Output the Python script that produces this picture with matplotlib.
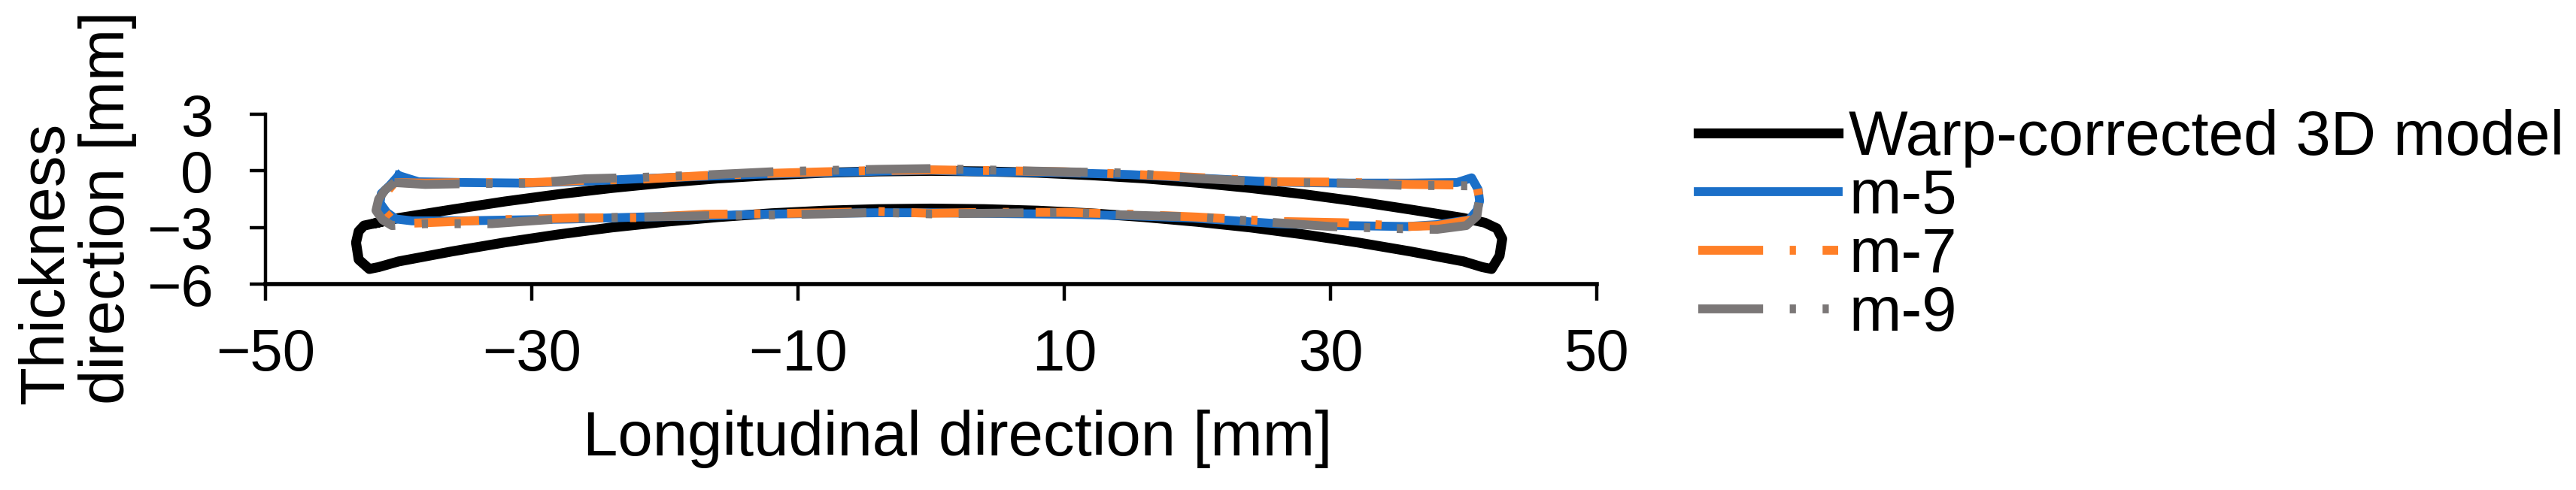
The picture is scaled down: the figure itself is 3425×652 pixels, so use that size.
import matplotlib
matplotlib.use("Agg")
matplotlib.rcParams["font.family"] = ["Liberation Sans", "DejaVu Sans"]
import matplotlib.pyplot as plt

W, H = 3425, 652

# Outlines, mm (closed loops, top surface then bottom)
model_x = [-41.6, -40, -36, -32, -28, -24, -20, -16, -12, -8, -4, 0, 4, 8, 12, 16, 20, 24, 28, 32, 36, 40,
           41.6, 42.5, 42.9, 42.7, 42.1, 41.4, 40, 36, 32, 28, 24, 20, 16, 12, 8, 4, 0, -4, -8, -12, -16, -20,
           -24, -28, -32, -36, -40, -41.5, -42.2, -43.0, -43.2, -43.0, -42.6, -41.6]
model_y = [-2.75, -2.5, -2.05, -1.62, -1.24, -0.91, -0.63, -0.40, -0.23, -0.10, -0.03, 0.0, -0.03, -0.10, -0.23, -0.40, -0.63, -0.91, -1.24, -1.62, -2.05, -2.5,
           -2.75, -3.05, -3.6, -4.5, -5.2, -5.1, -4.8, -4.27, -3.79, -3.37, -3.0, -2.7, -2.45, -2.25, -2.11, -2.03, -2.0, -2.03, -2.11, -2.25, -2.45, -2.7,
           -3.0, -3.37, -3.79, -4.27, -4.8, -5.1, -5.2, -4.7, -3.8, -3.2, -2.9, -2.75]

m5_x = [-40.0, -38.5, -35, -30.5, -26, -22, -17.5, -13, -8, -4, 0, 3.5, 10, 15, 19.7, 26, 31, 35.8, 39.5, 40.6, 41.1, 41.2, 41.0, 40.4,
        38, 35.8, 31, 26, 19.7, 15, 10.4, 3.5, 0, -4, -8, -13, -17.5, -22, -27, -35.3, -39, -40.2, -40.9, -41.4, -41.3, -40.7, -40.0]
m5_y = [-0.25, -0.58, -0.62, -0.65, -0.55, -0.42, -0.3, -0.18, -0.1, -0.02, 0.03, -0.05, -0.1, -0.2, -0.37, -0.6, -0.65, -0.65, -0.62, -0.37, -1.0, -1.6, -2.1, -2.6,
        -2.85, -2.95, -2.9, -2.8, -2.5, -2.38, -2.3, -2.25, -2.22, -2.22, -2.25, -2.3, -2.4, -2.45, -2.55, -2.65, -2.65, -2.55, -2.2, -1.7, -1.2, -0.8, -0.25]

m7_x = [-40.3, -38, -35, -30, -26, -22, -17, -13, -8, -4, 0, 4, 10, 15, 20, 26, 31, 36, 39.5, 41.0, 41.2, 41.1, 40.6,
        38, 35.8, 31, 26, 20, 15, 10, 4, 0, -4, -8, -13, -17, -22, -27, -33, -38, -40.2, -41.0, -41.3, -41.0, -40.3]
m7_y = [-0.62, -0.65, -0.62, -0.62, -0.5, -0.45, -0.25, -0.15, -0.05, 0.02, 0.05, 0.02, -0.05, -0.18, -0.35, -0.58, -0.6, -0.72, -0.75, -0.8, -1.5, -2.2, -2.6,
        -2.9, -2.95, -2.75, -2.68, -2.45, -2.3, -2.2, -2.2, -2.25, -2.15, -2.22, -2.28, -2.3, -2.48, -2.5, -2.6, -2.75, -2.8, -2.2, -1.7, -1.2, -0.62]

m9_x = [-40.3, -38, -35, -30, -26, -22, -17, -12, -8, -4, 0, 4, 10, 15, 20, 26, 31, 36, 39, 41.0, 41.2, 41.0, 40.2,
        38, 36, 30, 26, 20, 15, 10, 4, 0, -4, -8, -13, -17, -22, -27, -33, -38, -40.5, -41.2, -41.7, -41.5, -41.0, -40.3]
m9_y = [-0.62, -0.72, -0.68, -0.65, -0.42, -0.35, -0.22, -0.05, 0.02, 0.08, 0.12, 0.05, -0.05, -0.12, -0.4, -0.62, -0.65, -0.78, -0.78, -0.8, -1.4, -2.4, -2.9,
        -3.1, -3.08, -2.95, -2.75, -2.45, -2.35, -2.2, -2.25, -2.28, -2.2, -2.28, -2.35, -2.38, -2.45, -2.5, -2.8, -2.8, -2.9, -2.6, -2.1, -1.5, -1.0, -0.62]

x_ticks = [-50, -30, -10, 10, 30, 50]
y_ticks = [-6, -3, 0, 3]

FONT = 60
FONT_TICK = 56
LW = 8.5

fig = plt.figure(figsize=(W / 100, H / 100), dpi=100)
ax = fig.add_axes([353 / W, 1 - 378 / H, (2123 - 353) / W, (378 - 152) / H])

ax.plot(model_x, model_y, color="black", lw=LW + 1, solid_joinstyle="round", label="Warp-corrected 3D model")
ax.plot(m5_x, m5_y, color="#1B6FC8", lw=LW, solid_joinstyle="round", label="m-5")
ax.plot(m7_x, m7_y, color="#FF7F27", lw=LW, dashes=(7.3, 3, 0.7, 3), dash_capstyle="butt", label="m-7")
ax.plot(m9_x, m9_y, color="#7B7777", lw=LW, dashes=(7.3, 3, 0.7, 3, 0.7, 3), dash_capstyle="butt", label="m-9")

ax.set_xlim(-50, 50)
ax.set_ylim(-6, 3)
ax.set_xticks(x_ticks)
ax.set_yticks(y_ticks)
ax.spines["top"].set_visible(False)
ax.spines["right"].set_visible(False)
ax.spines["left"].set_linewidth(3.2)
ax.spines["bottom"].set_linewidth(4)
ax.tick_params(axis="x", length=16, width=3.2, labelsize=FONT_TICK, pad=26)
ax.tick_params(axis="y", length=15, width=3.2, labelsize=FONT_TICK, pad=35)

ax.set_xlabel("Longitudinal direction [mm]", fontsize=FONT, labelpad=26, x=0.52)
fig.text(23 / W, 1 - 538 / H, "Thickness\ndirection [mm]", rotation=90, fontsize=FONT,
         ha="left", va="bottom", multialignment="left", linespacing=1.05)

leg = ax.legend(loc="upper left", bbox_to_anchor=(2258 / W, 1 - 145 / H), bbox_transform=fig.transFigure,
                frameon=False, fontsize=FONT, handlelength=186 / (FONT * 100 / 72),
                handletextpad=0.17, labelspacing=0.0, borderpad=0, borderaxespad=0)

fig.savefig("out.png", dpi=100)
